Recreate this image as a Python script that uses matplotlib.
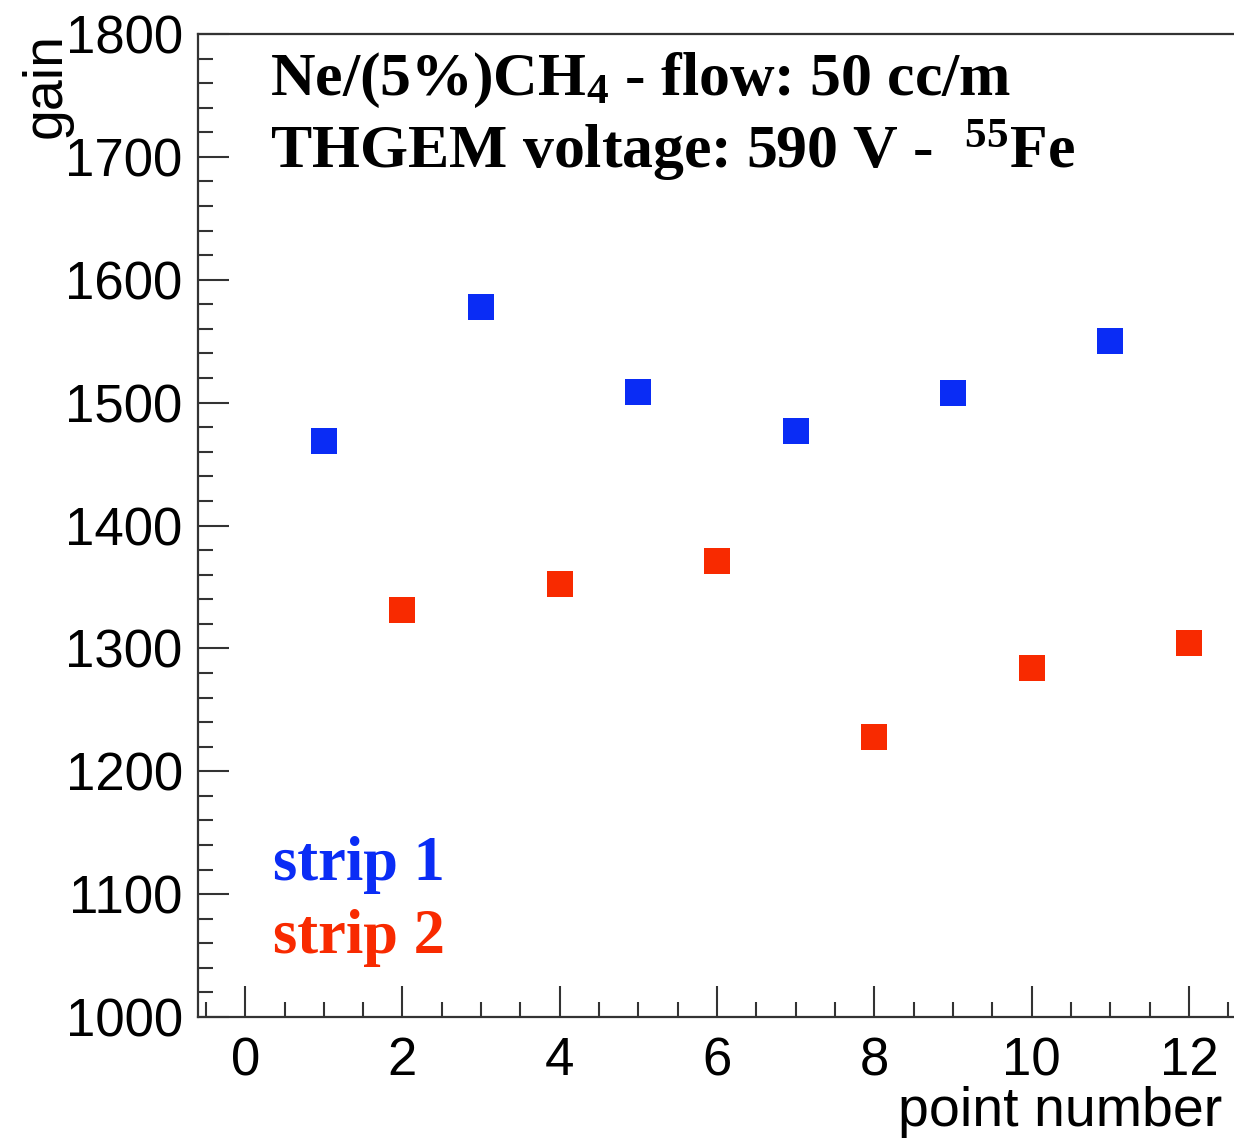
import matplotlib
matplotlib.use("Agg")
import matplotlib.pyplot as plt
from matplotlib.ticker import MultipleLocator

# Data
strip1_x = [1, 3, 5, 7, 9, 11]
strip1_gain = [1469, 1578, 1509, 1477, 1508, 1550]
strip2_x = [2, 4, 6, 8, 10, 12]
strip2_gain = [1331, 1352, 1371, 1228, 1284, 1304]

x_ticks = [0, 2, 4, 6, 8, 10, 12]
y_ticks = [1000, 1100, 1200, 1300, 1400, 1500, 1600, 1700, 1800]

plt.rcParams['mathtext.fontset'] = 'custom'
plt.rcParams['mathtext.rm'] = 'Liberation Serif:bold'
plt.rcParams['mathtext.bf'] = 'Liberation Serif:bold'
plt.rcParams['mathtext.it'] = 'Liberation Serif:bold'

fig = plt.figure(figsize=(12.34, 11.39), dpi=100)
ax = fig.add_axes([198/1234, 1 - 1017/1139, (1236 - 198)/1234, (1017 - 34)/1139])

blue = '#0a2cf5'
red = '#f82a00'
ax.plot(strip1_x, strip1_gain, 's', color=blue, markersize=19, markeredgewidth=0, linestyle='none')
ax.plot(strip2_x, strip2_gain, 's', color=red, markersize=19, markeredgewidth=0, linestyle='none')

ax.set_xlim(-0.6, 12.6)
ax.set_ylim(1000, 1800)
ax.set_xticks(x_ticks)
ax.set_yticks(y_ticks)
ax.xaxis.set_minor_locator(MultipleLocator(0.5))
ax.yaxis.set_minor_locator(MultipleLocator(20))

tick_font = dict(family='Liberation Sans', size=38)
ax.set_xticklabels([str(v) for v in x_ticks], fontdict=tick_font)
ax.set_yticklabels([str(v) for v in y_ticks], fontdict=tick_font)
ax.tick_params(axis='both', which='major', direction='in', length=22, width=1.5, color='#333333')
ax.tick_params(axis='both', which='minor', direction='in', length=11, width=1.5, color='#333333')
ax.tick_params(axis='x', which='both', top=False, pad=14)
ax.tick_params(axis='y', which='both', right=False, pad=11)
for s in ax.spines.values():
    s.set_linewidth(1.6)
    s.set_color('#333333')

fig.text(47/1234, 1 - 85/1139, 'gain', rotation=90, ha='center', va='center',
         family='Liberation Sans', fontsize=40)
fig.text(1222/1234, 1 - 1112/1139, 'point number', ha='right', va='center',
         family='Liberation Sans', fontsize=40)

fig.text(270/1234, 1 - 95/1139, r'Ne/(5%)CH$_4$ - flow: 50 cc/m', ha='left', va='baseline',
         family='Liberation Serif', weight='bold', fontsize=44.5)
fig.text(270/1234, 1 - 168/1139, r'THGEM voltage: 590 V -  $^{55}$Fe', ha='left', va='baseline',
         family='Liberation Serif', weight='bold', fontsize=44.5)

fig.text(273/1234, 1 - 880/1139, 'strip 1', color=blue, ha='left', va='baseline',
         family='Liberation Serif', weight='bold', fontsize=45)
fig.text(273/1234, 1 - 953/1139, 'strip 2', color=red, ha='left', va='baseline',
         family='Liberation Serif', weight='bold', fontsize=45)

fig.savefig('out.png', dpi=100)
